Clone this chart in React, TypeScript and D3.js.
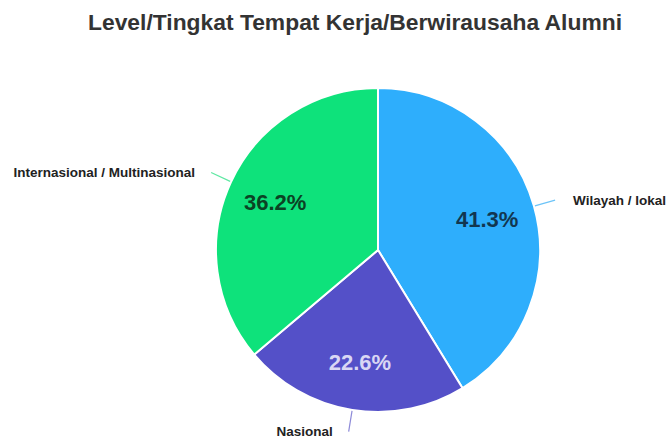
import React from "react";
import * as d3 from "d3";

const categories = ["Wilayah / lokal", "Nasional", "Internasional / Multinasional"];
const values = [41.3, 22.6, 36.2];
const colors = ["#2eaefc", "#5450c8", "#0ee27b"];
const pctColors = ["#123650", "#d9d7f4", "#0b4324"];
const lineColors = ["#6cc4f8", "#8d8ad8", "#5fe8a3"];
const title = "Level/Tingkat Tempat Kerja/Berwirausaha Alumni";

export default function App() {
  const W = 667, H = 440;
  const cx = 378, cy = 250, R = 162;
  const pie = d3.pie<number>().sort(null).value((d) => d);
  const arcs = pie(values);
  const arc = d3.arc<d3.PieArcDatum<number>>().innerRadius(0).outerRadius(R);
  const font = "'Liberation Sans', Arial, sans-serif";
  return (
    <svg width={W} height={H} style={{ position: "absolute", left: 0, top: 0 }} fontFamily={font}>
      <rect width={W} height={H} fill="#fff" />
      <text x={355} y={30} textAnchor="middle" fontSize={22} fontWeight="bold" fill="#333"
        textLength={534} lengthAdjust="spacingAndGlyphs">{title}</text>
      <g transform={`translate(${cx},${cy})`}>
        {arcs.map((a, i) => (
          <path key={i} d={arc(a) || ""} fill={colors[i]} stroke="#fff" strokeWidth={2} />
        ))}
        {arcs.map((a, i) => {
          const m = (a.startAngle + a.endAngle) / 2;
          const r = R * 0.7;
          return (
            <text key={"p" + i} x={Math.sin(m) * r} y={-Math.cos(m) * r} dy="0.35em" textAnchor="middle"
              fontSize={22} fontWeight="bold" fill={pctColors[i]}>
              {values[i].toFixed(1)}%
            </text>
          );
        })}
        {arcs.map((a, i) => {
          const m = (a.startAngle + a.endAngle) / 2;
          const s = Math.sin(m), c = -Math.cos(m);
          const r1 = R + 1, r2 = R + 22;
          const x2 = s * r2, y2 = c * r2;
          const right = s > 0;
          return (
            <g key={"l" + i}>
              <path d={`M${s * r1},${c * r1}L${x2},${y2}`} stroke={lineColors[i]} strokeWidth={1.2} fill="none" />
              <text x={x2 + (right ? 18 : -16)} y={y2} dy="0.35em" textAnchor={right ? "start" : "end"}
                fontSize={13.5} fontWeight="bold" fill="#222">
                {categories[i]}
              </text>
            </g>
          );
        })}
      </g>
    </svg>
  );
}
